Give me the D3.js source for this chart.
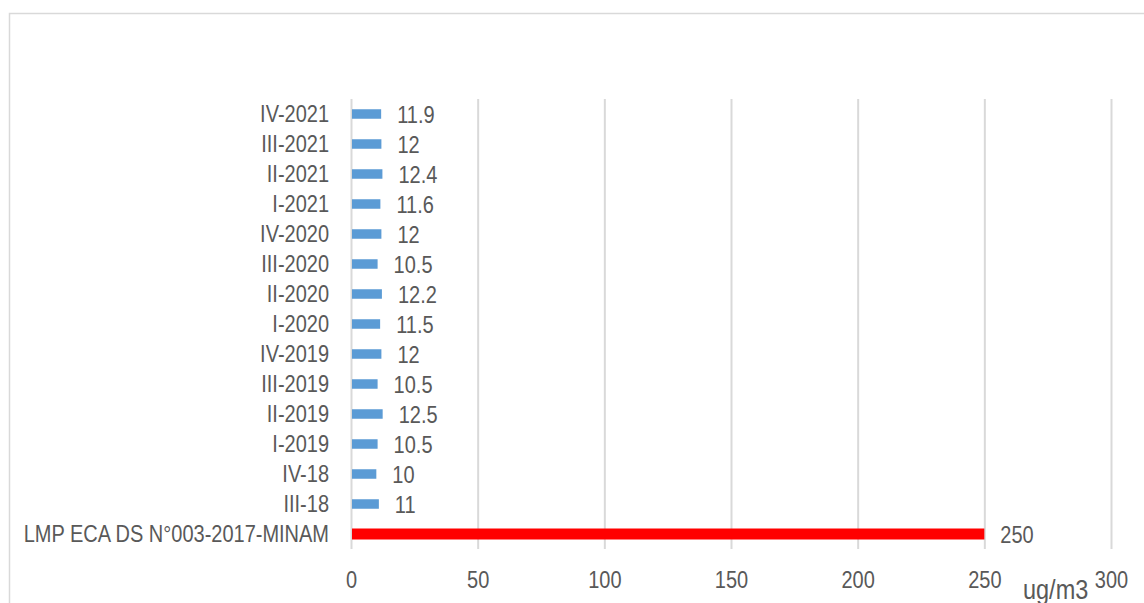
<!DOCTYPE html>
<html>
<head>
<meta charset="utf-8">
<script src="https://cdn.jsdelivr.net/npm/d3@7/dist/d3.min.js"></script>
<style>
  html, body { margin: 0; padding: 0; background: #fff; }
  svg { display: block; font-family: "Liberation Sans", Arial, sans-serif; }
</style>
</head>
<body>
<svg id="chart" width="1144" height="603"></svg>
<script>
// Quarterly PM concentrations against the national standard (ug/m3)
const categories = [
  "LMP ECA DS N°003-2017-MINAM",
  "III-18", "IV-18",
  "I-2019", "II-2019", "III-2019", "IV-2019",
  "I-2020", "II-2020", "III-2020", "IV-2020",
  "I-2021", "II-2021", "III-2021", "IV-2021"
];
const values = [250, 11, 10, 10.5, 12.5, 10.5, 12, 11.5, 12.2, 10.5, 12, 11.6, 12.4, 12, 11.9];
const limitLabel = "LMP ECA DS N°003-2017-MINAM";
const xTicks = [0, 50, 100, 150, 200, 250, 300];
const unitLabel = "ug/m3";

const data = categories.map((c, i) => ({ cat: c, value: values[i] }));

const svg = d3.select("#chart");
const textColor = "#595959";
const gridColor = "#d9d9d9";
const sy = 1.17; // vertical stretch applied to the text

const plot = { left: 351, right: 1111, top: 99, bottom: 549 };

// outer frame
svg.append("rect")
  .attr("x", 9.5).attr("y", 13.5)
  .attr("width", 1200).attr("height", 700)
  .attr("fill", "none").attr("stroke", gridColor).attr("stroke-width", 1.5);

const x = d3.scaleLinear().domain([0, 300]).range([plot.left, plot.right]);
const y = d3.scaleBand()
  .domain(categories.slice().reverse())
  .range([plot.top, plot.bottom])
  .padding(0);

// vertical gridlines
const grid = svg.append("g")
  .attr("transform", `translate(0,${plot.bottom})`)
  .call(d3.axisBottom(x).tickValues(xTicks).tickSize(-(plot.bottom - plot.top)).tickFormat(""));
grid.select(".domain").remove();
grid.selectAll(".tick line").attr("stroke", gridColor).attr("stroke-width", 2);

// x tick labels
const xAxis = svg.append("g")
  .attr("transform", `translate(0,${plot.bottom})`)
  .call(d3.axisBottom(x).tickValues(xTicks).tickSize(0).tickFormat(d3.format("d")));
xAxis.select(".domain").remove();
xAxis.selectAll(".tick text")
  .attr("dy", null)
  .attr("y", 39 / sy)
  .attr("transform", `scale(1,${sy})`)
  .attr("fill", textColor)
  .style("font-size", "20px")
  .style("font-family", "'Liberation Sans', Arial, sans-serif");

// category labels
const yAxis = svg.append("g")
  .attr("transform", `translate(${plot.left},0)`)
  .call(d3.axisLeft(y).tickSize(0).tickPadding(22));
yAxis.select(".domain").remove();
yAxis.selectAll(".tick text")
  .attr("dy", null)
  .attr("y", 8.3 / sy)
  .attr("transform", `scale(1,${sy})`)
  .attr("fill", textColor)
  .style("font-size", "20px")
  .style("font-family", "'Liberation Sans', Arial, sans-serif");

// bars
const barH = d => (d.cat === limitLabel ? 11 : 9.5);
svg.append("g").selectAll("rect")
  .data(data)
  .join("rect")
  .attr("x", x(0) + 1)
  .attr("y", d => y(d.cat) + y.bandwidth() / 2 - barH(d) / 2)
  .attr("width", d => x(d.value) - x(0) - 1)
  .attr("height", barH)
  .attr("fill", d => (d.cat === limitLabel ? "#ff0000" : "#5b9bd5"));

// value labels
svg.append("g").selectAll("text")
  .data(data)
  .join("text")
  .attr("transform", d => `translate(${x(d.value) + 16},${y(d.cat) + y.bandwidth() / 2 + 8.5}) scale(1,${sy})`)
  .attr("fill", textColor)
  .style("font-size", "20px")
  .text(d => d.value);

// unit label
svg.append("text")
  .attr("transform", `translate(1023,599) scale(1,1.2)`)
  .attr("fill", textColor)
  .style("font-size", "23.5px")
  .text(unitLabel);
</script>
</body>
</html>
